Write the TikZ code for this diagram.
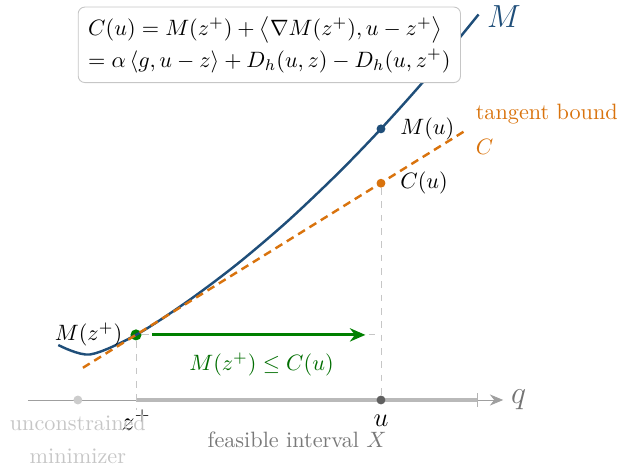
\documentclass[tikz,border=0pt]{standalone}
\usepackage{amsmath}
\usetikzlibrary{arrows.meta, positioning, calc}
\definecolor{mblue}{RGB}{31,78,121}
\definecolor{corange}{RGB}{217,115,13}
\definecolor{fgreen}{RGB}{0,128,0}

\begin{document}
\begin{tikzpicture}[
  dot/.style={circle,inner sep=0pt,minimum size=#1},
  dot/.default=4pt,
  guide/.style={gray!45,dashed,thin},
  curve/.style={mblue,line width=1.1pt},
  tangent/.style={corange,line width=1.1pt,dash pattern=on 3.6pt off 2.4pt},
  arr/.style={-{Stealth[length=7pt,width=6pt]},line width=1.3pt}
]
  \useasboundingbox (-2.152,-1.171) rectangle (7.674,6.329);

  % axis and feasible interval
  \coordinate (O) at (0,0);
  \coordinate (qa) at (-1.71,0);
  \coordinate (qb) at (5.81,0);
  \coordinate (xr) at (5.40,0);
  \draw[gray!75,thin,-{Stealth[length=6pt,width=5pt]}] (qa) -- (qb) node[right,text=gray!90!black,font=\Large](qlab){$q$};
  \draw[gray!55,line width=1.5pt] (O) -- (xr);
  \draw[gray!60] ($(xr)+(0,-0.11)$) -- ($(xr)+(0,0.11)$);

  % points
  \node[dot=5pt,fill=fgreen] (Mz) at (0,1.03) {};
  \node[dot,fill=mblue] (Mu) at (3.876,4.29) {};
  \node[dot,fill=corange] (Cu) at (3.876,3.43) {};
  \node[dot,fill=gray!75!black] (u) at (3.876,0) {};
  \node[dot,fill=gray!40] (ucm) at (-0.92,0) {};

  % guides
  \draw[guide] (Mz) -- (0,-0.16);
  \draw[guide] (Cu) -- (u);
  \draw[guide] (Mz) -- (Mz -| Cu);

  % model and tangent bound
  \draw[curve] plot[smooth] coordinates {(-1.23,0.87) (-0.73,0.72) (0,1.03) (0.8,1.55) (1.6,2.15) (2.4,2.83) (3.2,3.59) (3.876,4.29) (4.6,5.10) (5.42,6.10)}
    node[right,font=\Large,yshift=-1pt](Mlab){$M$};
  \coordinate (T0) at (-0.84,0.51);
  \coordinate (T1) at (5.24,4.28);
  \draw[tangent] (T0) -- (T1) node[right,align=left,text=corange](tlab){tangent bound\\[4pt]$C$};

  % labels
  \node[left=0pt of Mz](lMz){$M(z^+)$};
  \node[right=3pt of Mu](lMu){$M(u)$};
  \node[right=3pt of Cu](lCu){$C(u)$};
  \node[below=1pt of O,font=\large](lz){$z^+$};
  \node[below=1pt of u,font=\large](lu){$u$};
  \node[below=1pt of ucm,align=center,text=gray!45](lucm){unconstrained\\[3pt]minimizer};
  \node[text=gray!95!black](lX) at (2.55,-0.63){feasible interval $X$};

  % decrease step
  \draw[arr,fgreen,shorten <=4.5pt,shorten >=7pt] (Mz) -- (Mz -| Cu)
    node[midway,below=4pt,text=fgreen!85!black](ineq){$M(z^+)\le C(u)$};

  % definition box
  \node[draw=gray!45,rounded corners=3pt,fill=white,align=left,inner sep=4.5pt](Cdef) at (2.11,5.62)
    {$C(u) = M(z^+) + \big\langle \nabla M(z^+), u - z^+ \big\rangle$\\[2pt]
     $= \alpha\,\langle g, u - z\rangle + D_h(u,z) - D_h(u,z^+)$};
\end{tikzpicture}
\end{document}
